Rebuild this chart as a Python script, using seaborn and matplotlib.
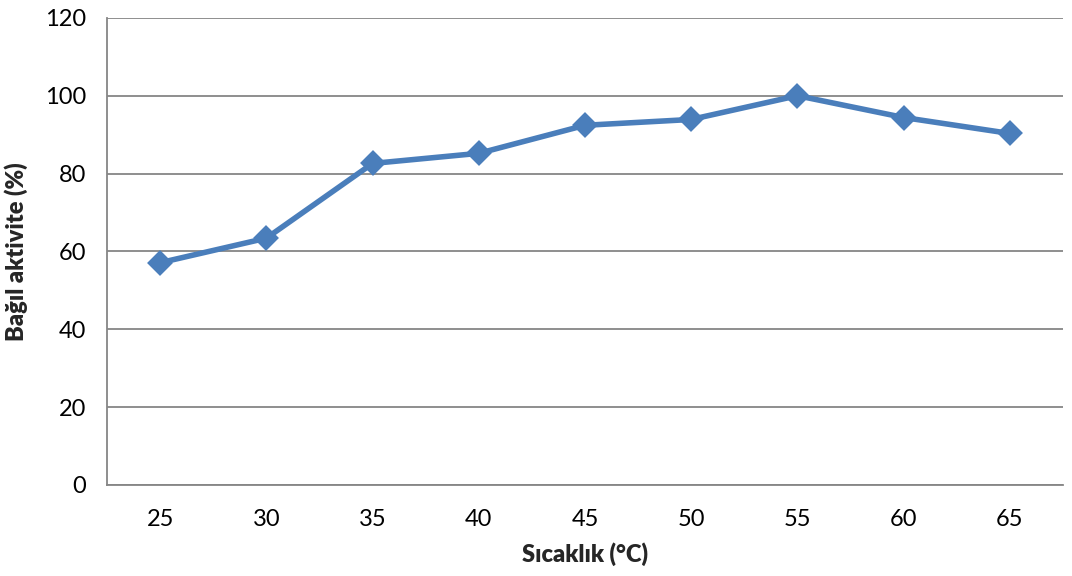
import matplotlib
matplotlib.use("Agg")
import matplotlib.pyplot as plt
import seaborn as sns
import numpy as np
import pandas as pd
from matplotlib.ticker import FixedLocator

# Temperature (°C) vs. relative activity (%)
temperatures = ["25", "30", "35", "40", "45", "50", "55", "60", "65"]
activity = [57.1, 63.4, 82.6, 85.2, 92.4, 93.9, 100.0, 94.4, 90.3]
y_ticks = [0, 20, 40, 60, 80, 100, 120]

df = pd.DataFrame({"Sıcaklık": temperatures, "Aktivite": activity})

sns.set_theme(style="white")
plt.rcParams["font.family"] = ["Lato", "DejaVu Sans"]

fig = plt.figure(figsize=(10.72, 5.76), dpi=100)
ax = fig.add_axes([0.0998, 0.158, 0.8918, 0.811])

line_color = "#4A7EBB"
grid_color = "#868686"

sns.pointplot(data=df, x="Sıcaklık", y="Aktivite", ax=ax, color=line_color,
              markers="D", linewidth=4.0, markersize=10.5, errorbar=None)

ax.set_xlim(-0.5, len(temperatures) - 0.5)
ax.set_ylim(0, 120)
ax.set_yticks(y_ticks)
ax.yaxis.grid(True, color=grid_color, linewidth=1.3)
ax.set_axisbelow(True)

# Category boundaries carry the tick marks; labels sit at category centres
ax.xaxis.set_minor_locator(FixedLocator(np.arange(-0.5, len(temperatures), 1.0)))
ax.tick_params(axis="x", which="major", length=0, pad=17, labelsize=17, colors="black")
ax.tick_params(axis="x", which="minor", length=7, width=1.3, color=grid_color, direction="out")
ax.tick_params(axis="y", which="major", length=8, width=1.3, color=grid_color,
               direction="out", pad=7, labelsize=17, labelcolor="black")

for side in ("top", "right"):
    ax.spines[side].set_visible(False)
for side in ("left", "bottom"):
    ax.spines[side].set_color(grid_color)
    ax.spines[side].set_linewidth(1.3)

ax.set_xlabel("Sıcaklık (°C)", fontsize=17, fontweight="heavy", labelpad=9)
ax.set_ylabel("Bağıl aktivite (%)", fontsize=17, fontweight="heavy", labelpad=12)

fig.savefig("out.png", dpi=100, facecolor="white")
